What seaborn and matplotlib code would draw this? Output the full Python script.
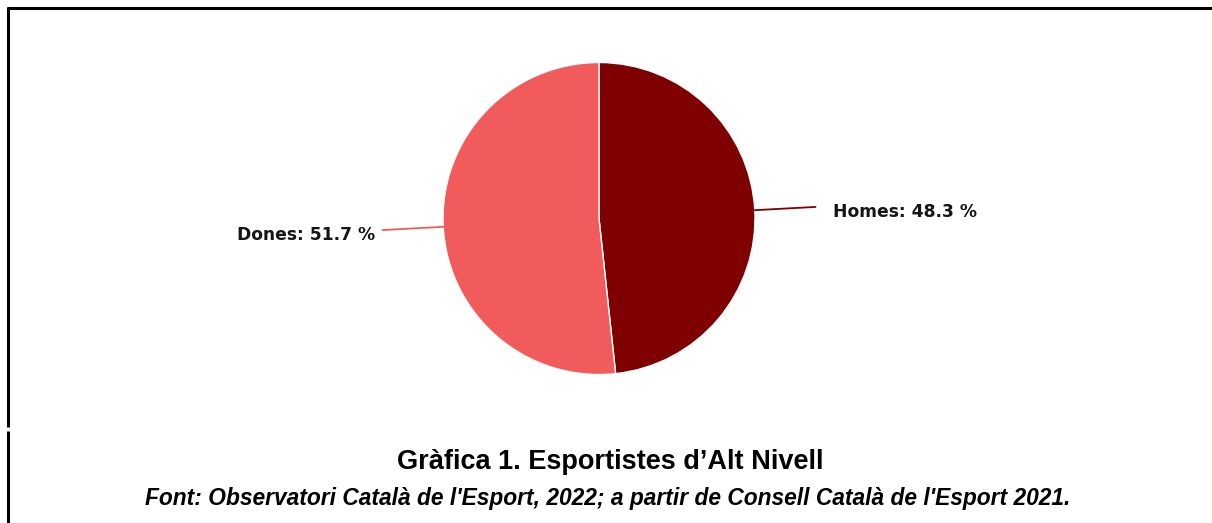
import matplotlib
matplotlib.use("Agg")
import matplotlib.pyplot as plt
from matplotlib.lines import Line2D
import numpy as np
import seaborn as sns

# Data
categories = ["Homes", "Dones"]
shares = [48.3, 51.7]
colors = ["#7f0000", "#f25b5b"]
title = "Gràfica 1. Esportistes d’Alt Nivell"
source = "Font: Observatori Català de l'Esport, 2022; a partir de Consell Català de l'Esport 2021."

sns.set_theme(style="white")
plt.rcParams["font.family"] = ["DejaVu Sans"]

W, H = 1212, 523
fig = plt.figure(figsize=(W / 100, H / 100), dpi=100)
fig.patch.set_facecolor("white")

# Pie axes: centre (599, 218.5) px from top-left, radius 156 px
cx, cy, r = 599, 218.5, 156
ax = fig.add_axes([(cx - r) / W, (H - cy - r) / H, 2 * r / W, 2 * r / H])
wedges, _ = ax.pie(
    shares,
    colors=colors,
    startangle=90,
    counterclock=False,
    wedgeprops=dict(edgecolor="white", linewidth=1.0),
)
ax.set_xlim(-1, 1)
ax.set_ylim(-1, 1)
ax.set_aspect("equal")
ax.axis("off")

# Leader lines and labels
for w, name, val, col in zip(wedges, categories, shares, colors):
    mid = np.deg2rad((w.theta1 + w.theta2) / 2)
    dx, dy = np.cos(mid), np.sin(mid)
    x0, y0 = dx * 1.0, dy * 1.0
    x1, y1 = dx * 1.39, dy * 1.39
    ax.add_line(Line2D([x0, x1], [y0, y1], color=col, lw=1.3, clip_on=False))
    side = 1 if dx >= 0 else -1
    gap = 0.11 if side > 0 else 0.045
    ax.text(
        x1 + side * gap,
        y1 - 0.03,
        f"{name}: {val} %",
        ha="left" if side > 0 else "right",
        va="center",
        fontsize=12.3,
        fontweight="bold",
        color="#151515",
        clip_on=False,
    )

# Caption
fig.text(610 / W, 1 - 462 / H, title, ha="center", va="center",
         fontsize=19.5, fontweight="bold", family=["Liberation Sans"], color="black")
fig.text(608 / W, 1 - 498 / H, source, ha="center", va="center",
         fontsize=16.4, fontweight="bold", fontstyle="italic",
         family=["Liberation Sans"], color="black")

# Frame lines (top and left)
lw = 2.2
fig.add_artist(Line2D([7 / W, 1.0], [1 - 8 / H, 1 - 8 / H], color="black", lw=lw,
                      transform=fig.transFigure, solid_capstyle="butt"))
fig.add_artist(Line2D([8 / W, 8 / W], [1 - 7 / H, 1 - 427 / H], color="black", lw=lw,
                      transform=fig.transFigure, solid_capstyle="butt"))
fig.add_artist(Line2D([8 / W, 8 / W], [1 - 431 / H, 0], color="black", lw=lw,
                      transform=fig.transFigure, solid_capstyle="butt"))

fig.savefig("out.png", dpi=100, facecolor="white")
